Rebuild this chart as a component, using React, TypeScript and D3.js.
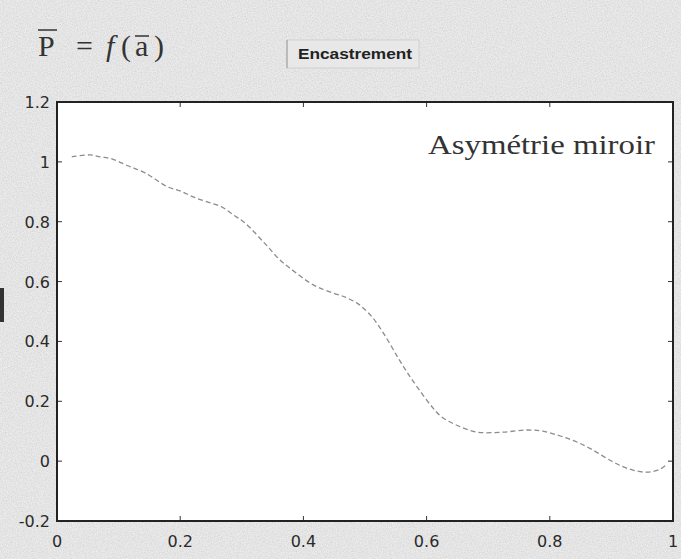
import React, { useEffect, useRef } from 'react';
import * as d3 from 'd3';

// abscissa a-bar and ordinate P-bar
const aValues = [0.024, 0.054, 0.070, 0.089, 0.115, 0.143, 0.180, 0.200, 0.221, 0.244, 0.268, 0.286, 0.305, 0.338, 0.362, 0.378, 0.416, 0.448, 0.468, 0.487, 0.497, 0.513, 0.532, 0.554, 0.568, 0.586, 0.609, 0.625, 0.649, 0.682, 0.724, 0.763, 0.789, 0.817, 0.844, 0.870, 0.903, 0.930, 0.958, 0.979, 0.990];
const pValues = [1.017, 1.023, 1.017, 1.010, 0.987, 0.963, 0.916, 0.903, 0.883, 0.866, 0.849, 0.823, 0.796, 0.726, 0.672, 0.645, 0.589, 0.562, 0.548, 0.528, 0.512, 0.478, 0.421, 0.344, 0.298, 0.244, 0.181, 0.147, 0.120, 0.097, 0.097, 0.104, 0.100, 0.084, 0.064, 0.037, -0.003, -0.027, -0.037, -0.027, -0.010];

const xTicks = [0, 0.2, 0.4, 0.6, 0.8, 1];
const xTickLabels = ['0', '0.2', '0.4', '0.6', '0.8', '1'];
const yTicks = [-0.2, 0, 0.2, 0.4, 0.6, 0.8, 1, 1.2];
const yTickLabels = ['-0.2', '0', '0.2', '0.4', '0.6', '0.8', '1', '1.2'];

const seriesLabel = 'Asymétrie miroir';
const buttonLabel = 'Encastrement';

function drawChart(container: HTMLDivElement) {
  d3.select(container).selectAll('*').remove();

  const W = 681;
  const H = 559;
  const margin = { top: 102, right: 8, bottom: 38, left: 57 };
  const width = W - margin.left - margin.right;
  const height = H - margin.top - margin.bottom;

  const svg = d3.select(container).append('svg')
    .attr('width', W)
    .attr('height', H)
    .style('display', 'block');

  // grainy scanned paper
  const defs = svg.append('defs');
  const filter = defs.append('filter').attr('id', 'grain')
    .attr('x', 0).attr('y', 0).attr('width', '100%').attr('height', '100%');
  filter.append('feTurbulence')
    .attr('type', 'fractalNoise')
    .attr('baseFrequency', 0.8)
    .attr('numOctaves', 2)
    .attr('seed', 3);
  filter.append('feColorMatrix')
    .attr('type', 'matrix')
    .attr('values', '0 0 0 0 0.4  0 0 0 0 0.4  0 0 0 0 0.4  0 0 0 -1.6 1.1');

  svg.append('rect').attr('width', W).attr('height', H).attr('fill', '#ebebeb');
  svg.append('rect').attr('width', W).attr('height', H).attr('fill', '#fff').attr('filter', 'url(#grain)').attr('opacity', 0.35);

  // left edge mark (cut-off label)
  svg.append('rect').attr('x', 0).attr('y', 288).attr('width', 4).attr('height', 34).attr('fill', '#333');

  // title
  const serif = 'Liberation Serif, DejaVu Serif, serif';
  const title = svg.append('g')
    .attr('font-family', serif)
    .attr('font-size', 30)
    .attr('fill', '#333');
  title.append('text').attr('x', 38).attr('y', 56).text('P');
  title.append('line').attr('x1', 38).attr('x2', 57).attr('y1', 30).attr('y2', 30).attr('stroke', '#333').attr('stroke-width', 1.5);
  title.append('text').attr('x', 76).attr('y', 56).text('=');
  title.append('text').attr('x', 106).attr('y', 56).attr('font-style', 'italic').text('f');
  title.append('text').attr('x', 121).attr('y', 56).text('(');
  title.append('text').attr('x', 135).attr('y', 56).text('a');
  title.append('line').attr('x1', 135).attr('x2', 149).attr('y1', 36).attr('y2', 36).attr('stroke', '#333').attr('stroke-width', 1.5);
  title.append('text').attr('x', 154).attr('y', 56).text(')');

  // "button"
  svg.append('rect')
    .attr('x', 287).attr('y', 40).attr('width', 132).attr('height', 28)
    .attr('fill', '#e8e8e8').attr('stroke', '#d0d0d0');
  svg.append('line')
    .attr('x1', 287).attr('x2', 287).attr('y1', 40).attr('y2', 68)
    .attr('stroke', '#999');
  svg.append('text')
    .attr('x', 298)
    .attr('y', 59)
    .attr('font-family', 'Liberation Sans, Arial, sans-serif')
    .attr('font-weight', 'bold')
    .attr('font-size', 14)
    .attr('textLength', 114)
    .attr('lengthAdjust', 'spacingAndGlyphs')
    .attr('fill', '#222')
    .text(buttonLabel);

  const g = svg.append('g').attr('transform', `translate(${margin.left},${margin.top})`);

  const x = d3.scaleLinear().domain([0, 1]).range([0, width]);
  const y = d3.scaleLinear().domain([-0.2, 1.2]).range([height, 0]);

  g.append('rect').attr('width', width).attr('height', height).attr('fill', '#fff');

  // inward ticks on all four sides
  const tickLen = 5;
  g.selectAll('.xt-b').data(xTicks).enter().append('line')
    .attr('x1', d => x(d)).attr('x2', d => x(d))
    .attr('y1', height).attr('y2', height - tickLen)
    .attr('stroke', '#333');
  g.selectAll('.xt-t').data(xTicks).enter().append('line')
    .attr('x1', d => x(d)).attr('x2', d => x(d))
    .attr('y1', 0).attr('y2', tickLen)
    .attr('stroke', '#333');
  g.selectAll('.yt-l').data(yTicks).enter().append('line')
    .attr('x1', 0).attr('x2', tickLen)
    .attr('y1', d => y(d)).attr('y2', d => y(d))
    .attr('stroke', '#333');
  g.selectAll('.yt-r').data(yTicks).enter().append('line')
    .attr('x1', width).attr('x2', width - tickLen)
    .attr('y1', d => y(d)).attr('y2', d => y(d))
    .attr('stroke', '#333');

  // frame
  g.append('rect')
    .attr('width', width).attr('height', height)
    .attr('fill', 'none').attr('stroke', '#222').attr('stroke-width', 2);

  // tick labels
  g.selectAll('.xl').data(xTicks).enter().append('text')
    .attr('x', d => x(d))
    .attr('y', height + 26)
    .attr('text-anchor', 'middle')
    .attr('font-family', 'DejaVu Sans, sans-serif')
    .attr('font-size', 16)
    .attr('fill', '#2a2a2a')
    .text((d, i) => xTickLabels[i]);
  g.selectAll('.yl').data(yTicks).enter().append('text')
    .attr('x', -7)
    .attr('y', d => y(d) + 6)
    .attr('text-anchor', 'end')
    .attr('font-family', 'DejaVu Sans, sans-serif')
    .attr('font-size', 16)
    .attr('fill', '#2a2a2a')
    .text((d, i) => yTickLabels[i]);

  // curve
  const pts = aValues.map((a, i) => [a, pValues[i]] as [number, number]);
  const line = d3.line<[number, number]>()
    .x(d => x(d[0]))
    .y(d => y(d[1]))
    .curve(d3.curveCatmullRom);
  g.append('path')
    .datum(pts)
    .attr('d', line)
    .attr('fill', 'none')
    .attr('stroke', '#8c8c8c')
    .attr('stroke-width', 1.3)
    .attr('stroke-dasharray', '5,3');

  // series note
  g.append('text')
    .attr('x', 371)
    .attr('y', 52)
    .attr('font-family', serif)
    .attr('font-size', 28)
    .attr('textLength', 227)
    .attr('lengthAdjust', 'spacingAndGlyphs')
    .attr('fill', '#333')
    .text(seriesLabel);
}

const App = () => {
  const ref = useRef<HTMLDivElement>(null);
  useEffect(() => {
    if (ref.current) drawChart(ref.current);
  }, []);
  return <div ref={ref} style={{ position: 'absolute', left: 0, top: 0 }} />;
};

export default App;
